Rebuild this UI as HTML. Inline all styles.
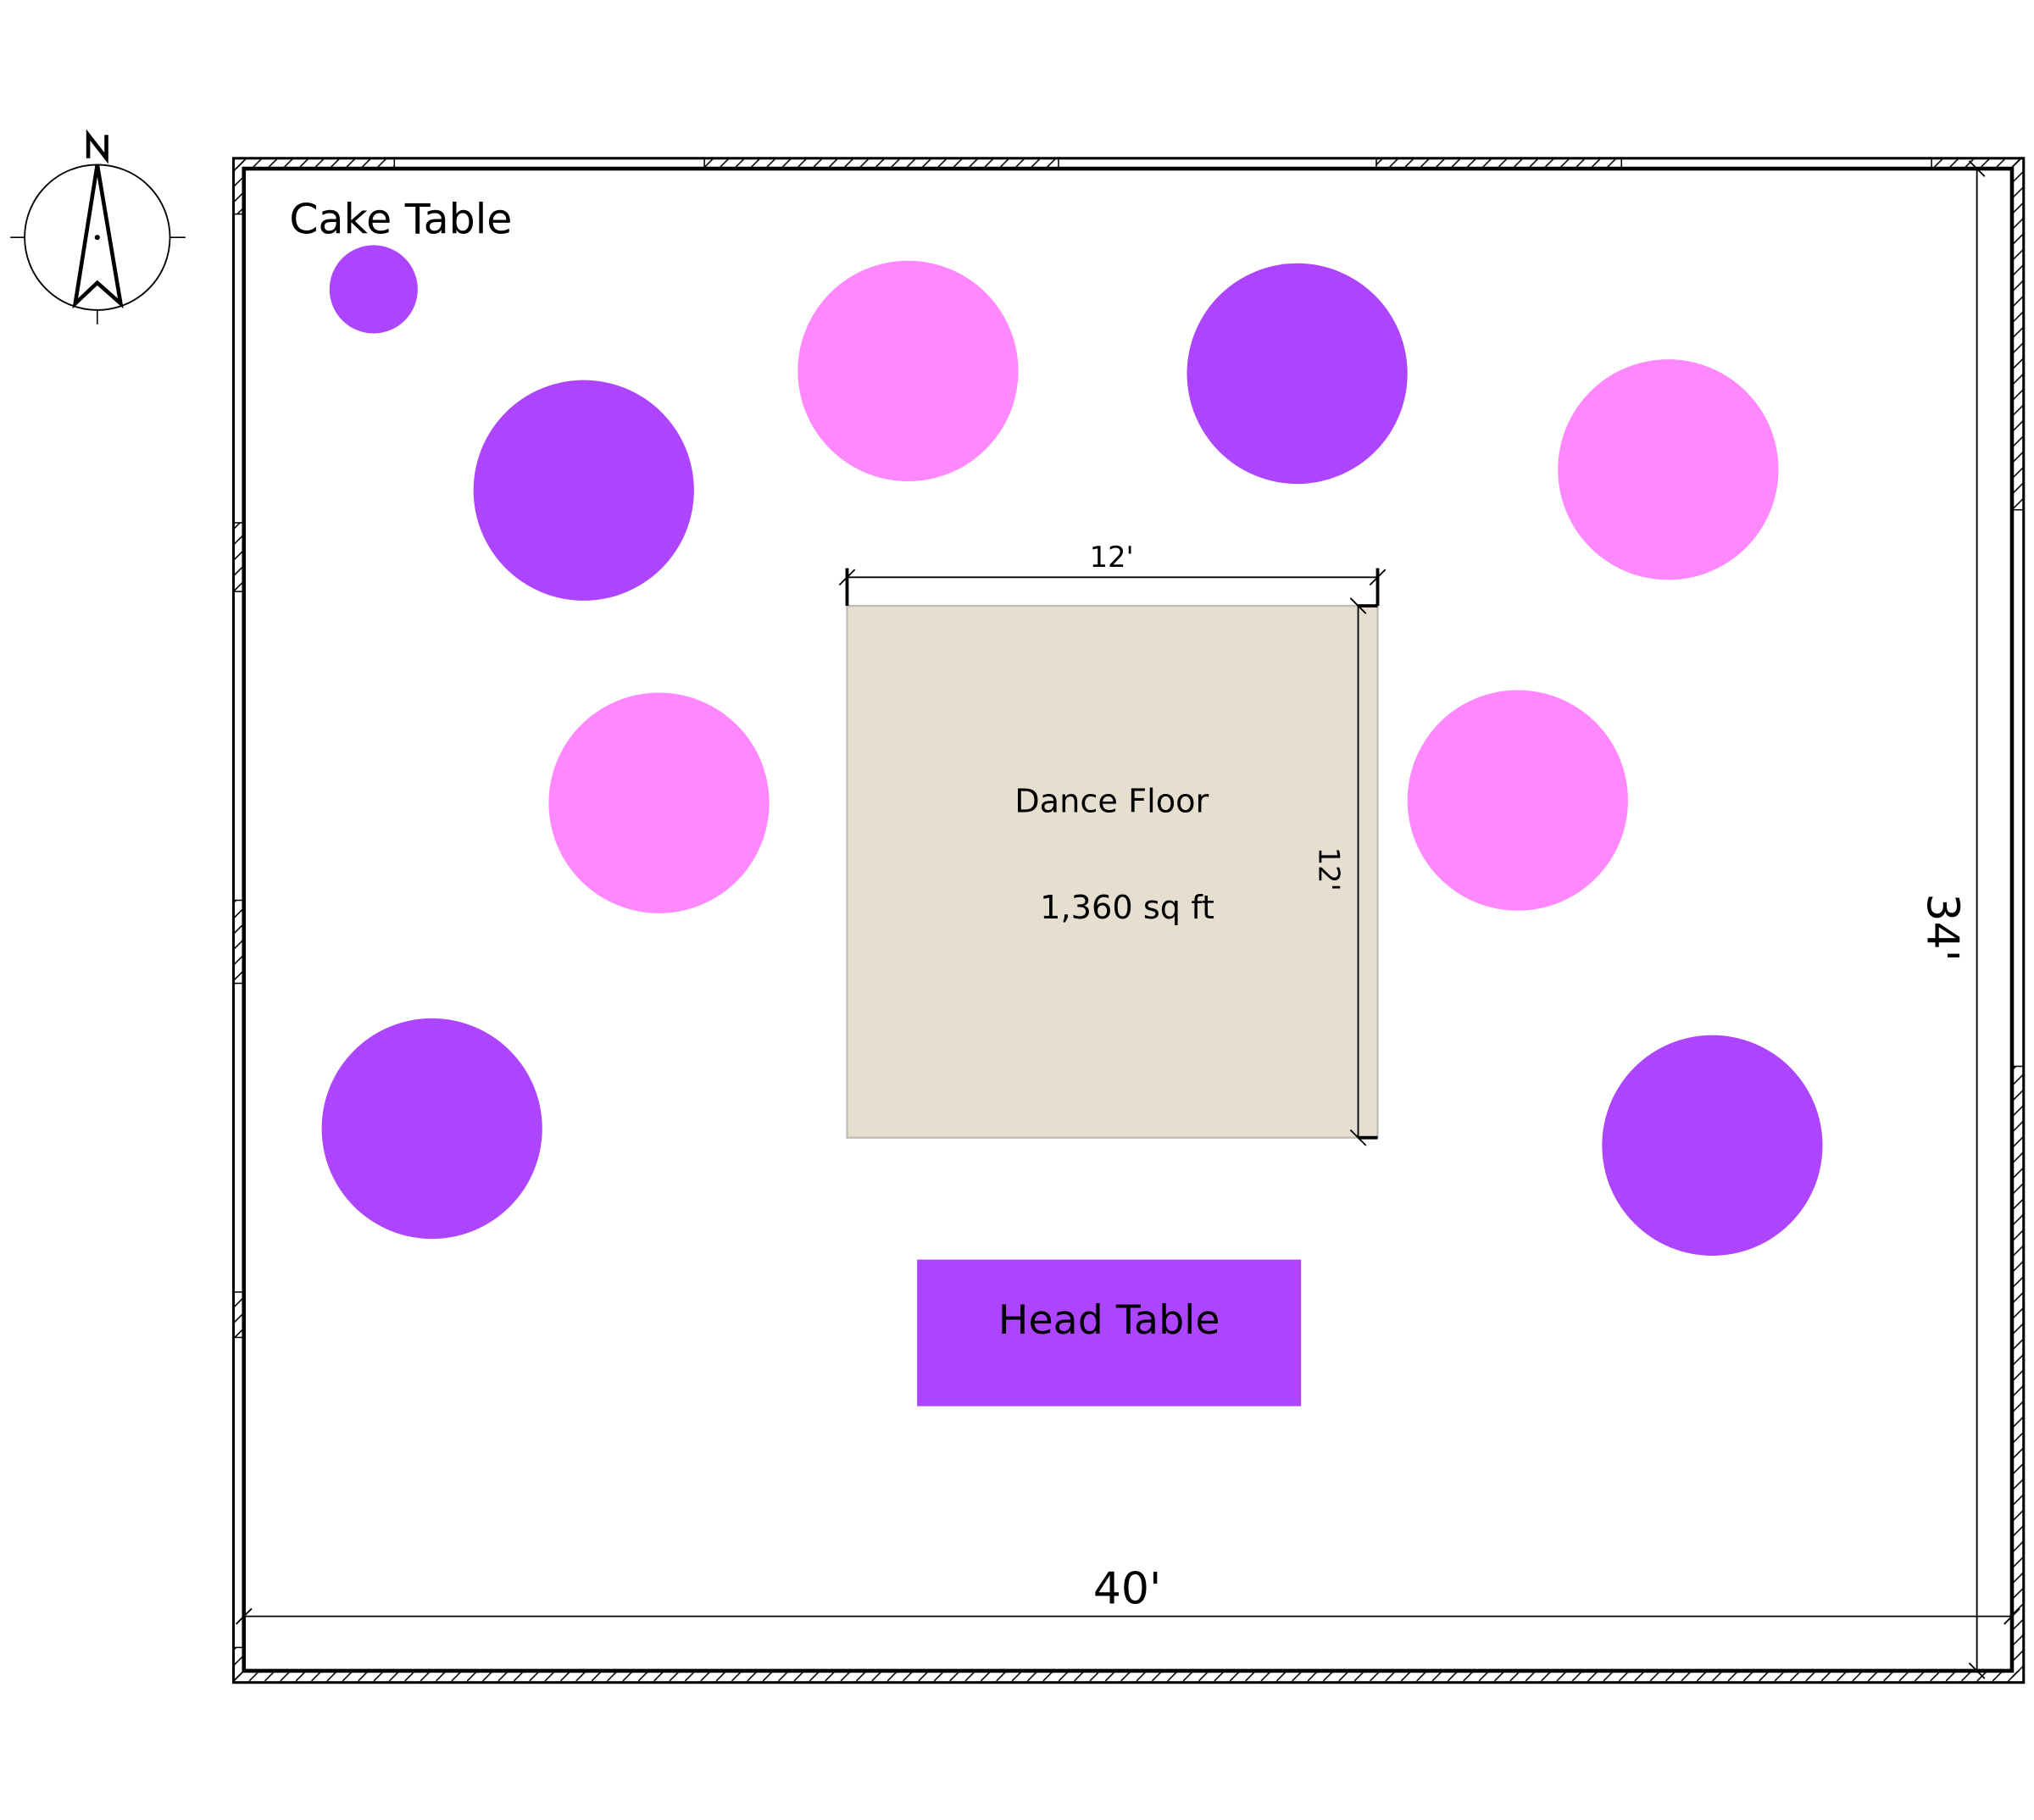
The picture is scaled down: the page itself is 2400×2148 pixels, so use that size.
<!DOCTYPE html>
<html><head><meta charset="utf-8"><style>
html,body{margin:0;padding:0;background:#fff}
svg{display:block}
text{font-family:"DejaVu Sans","Liberation Sans",sans-serif;fill:#000}
</style></head><body>
<svg width="2400" height="2148" viewBox="0 0 1568 1403" preserveAspectRatio="none" xmlns="http://www.w3.org/2000/svg">
<defs>
<pattern id="h" width="12" height="12" patternUnits="userSpaceOnUse">
<line x1="0" y1="12" x2="12" y2="0" stroke="#000" stroke-width="1"/>
</pattern>
</defs>
<rect width="1568" height="1403" fill="#fff"/>
<g fill="url(#h)" stroke="none">
<rect x="180" y="122" width="124" height="8"/>
<rect x="543" y="122" width="273" height="8"/>
<rect x="1061" y="122" width="189" height="8"/>
<rect x="1489" y="122" width="71" height="8"/>
<rect x="180" y="1288" width="1380" height="9"/>
<rect x="180" y="122" width="8" height="43"/>
<rect x="180" y="403" width="8" height="53"/>
<rect x="180" y="694" width="8" height="64"/>
<rect x="180" y="996" width="8" height="35"/>
<rect x="180" y="1270" width="8" height="27"/>
<rect x="1551" y="122" width="9" height="271"/>
<rect x="1551" y="822" width="9" height="475"/>
</g>
<g stroke="#000" fill="none">
<rect x="180" y="122" width="1380" height="1175" stroke-width="2"/>
<rect x="188" y="130" width="1363" height="1158" stroke-width="3"/>
<g stroke-width="1">
<line x1="304" y1="122" x2="304" y2="130"/><line x1="543" y1="122" x2="543" y2="130"/>
<line x1="816" y1="122" x2="816" y2="130"/><line x1="1061" y1="122" x2="1061" y2="130"/>
<line x1="1250" y1="122" x2="1250" y2="130"/><line x1="1489" y1="122" x2="1489" y2="130"/>
<line x1="180" y1="165" x2="188" y2="165"/><line x1="180" y1="403" x2="188" y2="403"/>
<line x1="180" y1="456" x2="188" y2="456"/><line x1="180" y1="694" x2="188" y2="694"/>
<line x1="180" y1="758" x2="188" y2="758"/><line x1="180" y1="996" x2="188" y2="996"/>
<line x1="180" y1="1031" x2="188" y2="1031"/><line x1="180" y1="1270" x2="188" y2="1270"/>
<line x1="1551" y1="393" x2="1560" y2="393"/><line x1="1551" y1="822" x2="1560" y2="822"/>
</g>
<line x1="188" y1="1246" x2="1551" y2="1246" stroke-width="1.2"/>
<line x1="1524" y1="130" x2="1524" y2="1288" stroke-width="1.2"/>
<line x1="182" y1="1252" x2="194" y2="1240" stroke-width="1.2"/>
<line x1="1545" y1="1252" x2="1557" y2="1240" stroke-width="1.2"/>
<line x1="1518" y1="124" x2="1530" y2="136" stroke-width="1.2"/>
<line x1="1518" y1="1282" x2="1530" y2="1294" stroke-width="1.2"/>
</g>
<text x="869" y="1236" font-size="34" text-anchor="middle">40'</text>
<text transform="translate(1486,715) rotate(90)" font-size="34" text-anchor="middle">34'</text>
<rect x="653" y="467" width="409" height="410" fill="#e6dfd0" stroke="#bfbcb6" stroke-width="1.5"/>
<g stroke="#000" fill="none">
<line x1="653" y1="445" x2="1062" y2="445" stroke-width="1.2"/>
<line x1="653" y1="438" x2="653" y2="467" stroke-width="2.5"/>
<line x1="1062" y1="438" x2="1062" y2="467" stroke-width="2.5"/>
<line x1="1047" y1="467" x2="1062" y2="467" stroke-width="2.5"/>
<line x1="647" y1="451" x2="659" y2="439" stroke-width="1.2"/>
<line x1="1056" y1="451" x2="1068" y2="439" stroke-width="1.2"/>
<line x1="1047" y1="467" x2="1047" y2="877" stroke-width="1.2"/>
<line x1="1041" y1="461" x2="1053" y2="473" stroke-width="1.2"/>
<line x1="1041" y1="871" x2="1053" y2="883" stroke-width="1.2"/>
<line x1="1047" y1="877" x2="1062" y2="877" stroke-width="2.5"/>
</g>
<text x="857" y="437" font-size="22" text-anchor="middle">12'</text>
<text transform="translate(1017,670) rotate(90)" font-size="22" text-anchor="middle">12'</text>
<text x="857" y="626" font-size="25" text-anchor="middle">Dance Floor</text>
<text x="869" y="708" font-size="25" text-anchor="middle">1,360 sq ft</text>
<g fill="#ad45ff">
<circle cx="450" cy="378" r="85"/><circle cx="1000" cy="288" r="85"/>
<circle cx="333" cy="870" r="85"/><circle cx="1320" cy="883" r="85"/>
<circle cx="288" cy="223" r="34"/>
<rect x="707" y="971" width="296" height="113"/>
</g>
<g fill="#ff88ff">
<circle cx="700" cy="286" r="85"/><circle cx="1286" cy="362" r="85"/>
<circle cx="508" cy="619" r="85"/><circle cx="1170" cy="617" r="85"/>
</g>
<text x="855" y="1028" font-size="31" text-anchor="middle">Head Table</text>
<text x="223" y="180" font-size="32">Cake Table</text>
<g stroke="#000" fill="none">
<circle cx="75" cy="183" r="56" stroke-width="1.2"/>
<line x1="8" y1="183" x2="19" y2="183" stroke-width="1"/>
<line x1="131" y1="183" x2="143" y2="183" stroke-width="1"/>
<line x1="75" y1="239" x2="75" y2="250" stroke-width="1"/>
<polygon points="75,127 93,234 75,218 58,234" stroke-width="3" stroke-linejoin="miter"/>
<polyline points="68,122 68,104 82,122 82,104" stroke-width="3"/>
</g>
<circle cx="75" cy="183" r="2" fill="#000"/>
</svg>
</body></html>
